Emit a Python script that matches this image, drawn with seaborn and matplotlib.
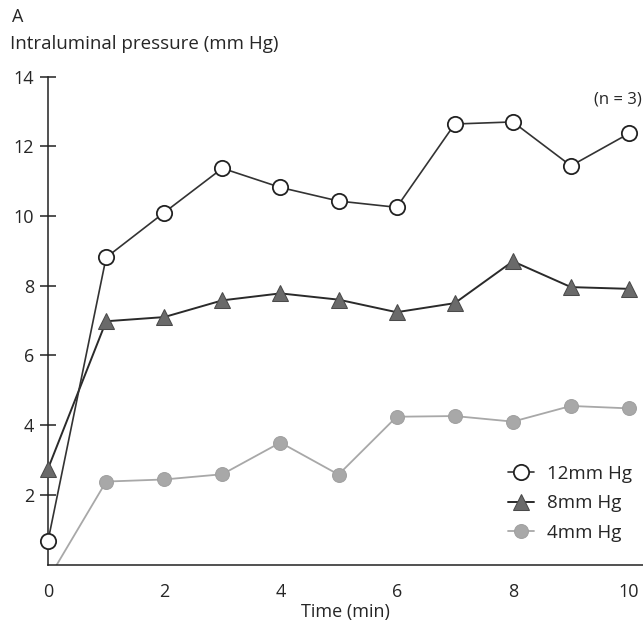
import matplotlib
matplotlib.use("Agg")
import matplotlib.pyplot as plt
import seaborn as sns
import pandas as pd

time_min = [0, 1, 2, 3, 4, 5, 6, 7, 8, 9, 10]
p12 = [0.68, 8.81, 10.10, 11.37, 10.82, 10.43, 10.25, 12.64, 12.70, 11.44, 12.37]
p8 = [2.75, 6.98, 7.10, 7.58, 7.78, 7.60, 7.24, 7.50, 8.70, 7.96, 7.91]
p4 = [-0.43, 2.38, 2.44, 2.59, 3.50, 2.58, 4.24, 4.26, 4.10, 4.55, 4.48]
labels = ["12mm Hg", "8mm Hg", "4mm Hg"]
yticks = [2, 4, 6, 8, 10, 12, 14]
xticks = [0, 2, 4, 6, 8, 10]

sns.set_theme(style="white")
plt.rcParams['font.family'] = ['Open Sans', 'DejaVu Sans']

fig = plt.figure(figsize=(6.43, 6.25), dpi=100)
ax = fig.add_axes([0.0747, 0.0968, 0.9253, 0.7806])

df = pd.DataFrame({"t": time_min, "p12": p12, "p8": p8, "p4": p4})

sns.lineplot(data=df, x="t", y="p4", ax=ax, color="#a8a8a8", lw=1.3,
             marker="o", markersize=10, markerfacecolor="#a8a8a8",
             markeredgecolor="#a0a0a0", label=labels[2], zorder=2)
sns.lineplot(data=df, x="t", y="p8", ax=ax, color="#2a2a2a", lw=1.4,
             marker="^", markersize=11, markerfacecolor="#6a6a6a",
             markeredgecolor="#4a4a4a", label=labels[1], clip_on=False, zorder=3)
sns.lineplot(data=df, x="t", y="p12", ax=ax, color="#333333", lw=1.2,
             marker="o", markersize=11, markerfacecolor="white",
             markeredgecolor="#222222", markeredgewidth=1.3,
             label=labels[0], clip_on=False, zorder=4)

ax.set_xlim(0, 10.24)
ax.set_ylim(0, 14)
ax.set_xticks(xticks)
ax.set_yticks(yticks)
ax.set_xlabel("Time (min)", fontsize=13, labelpad=2)
ax.set_ylabel("")
ax.tick_params(axis="x", length=0, labelsize=13, pad=13)
ax.tick_params(axis="y", direction="inout", length=12, width=1.1,
               color="#222222", labelsize=13, pad=4, left=True)

for s in ["top", "right"]:
    ax.spines[s].set_visible(False)
for s in ["left", "bottom"]:
    ax.spines[s].set_color("#222222")
    ax.spines[s].set_linewidth(1.1)

h, l = ax.get_legend_handles_labels()
order = [l.index(x) for x in labels]
ax.legend([h[i] for i in order], [l[i] for i in order], loc="lower right",
          bbox_to_anchor=(1.01, 0.012), frameon=False, fontsize=13.5,
          handlelength=1.4, handletextpad=0.7, labelspacing=0.62)

ax.text(10.22, 13.35, "(n = 3)", fontsize=12, ha="right", va="center")
fig.text(12 / 643, 1 - 17 / 625, "A", fontsize=13, va="center", ha="left")
fig.text(10 / 643, 1 - 44 / 625, "Intraluminal pressure (mm Hg)", fontsize=13.5,
         va="center", ha="left")

fig.savefig("out.png", dpi=100)
